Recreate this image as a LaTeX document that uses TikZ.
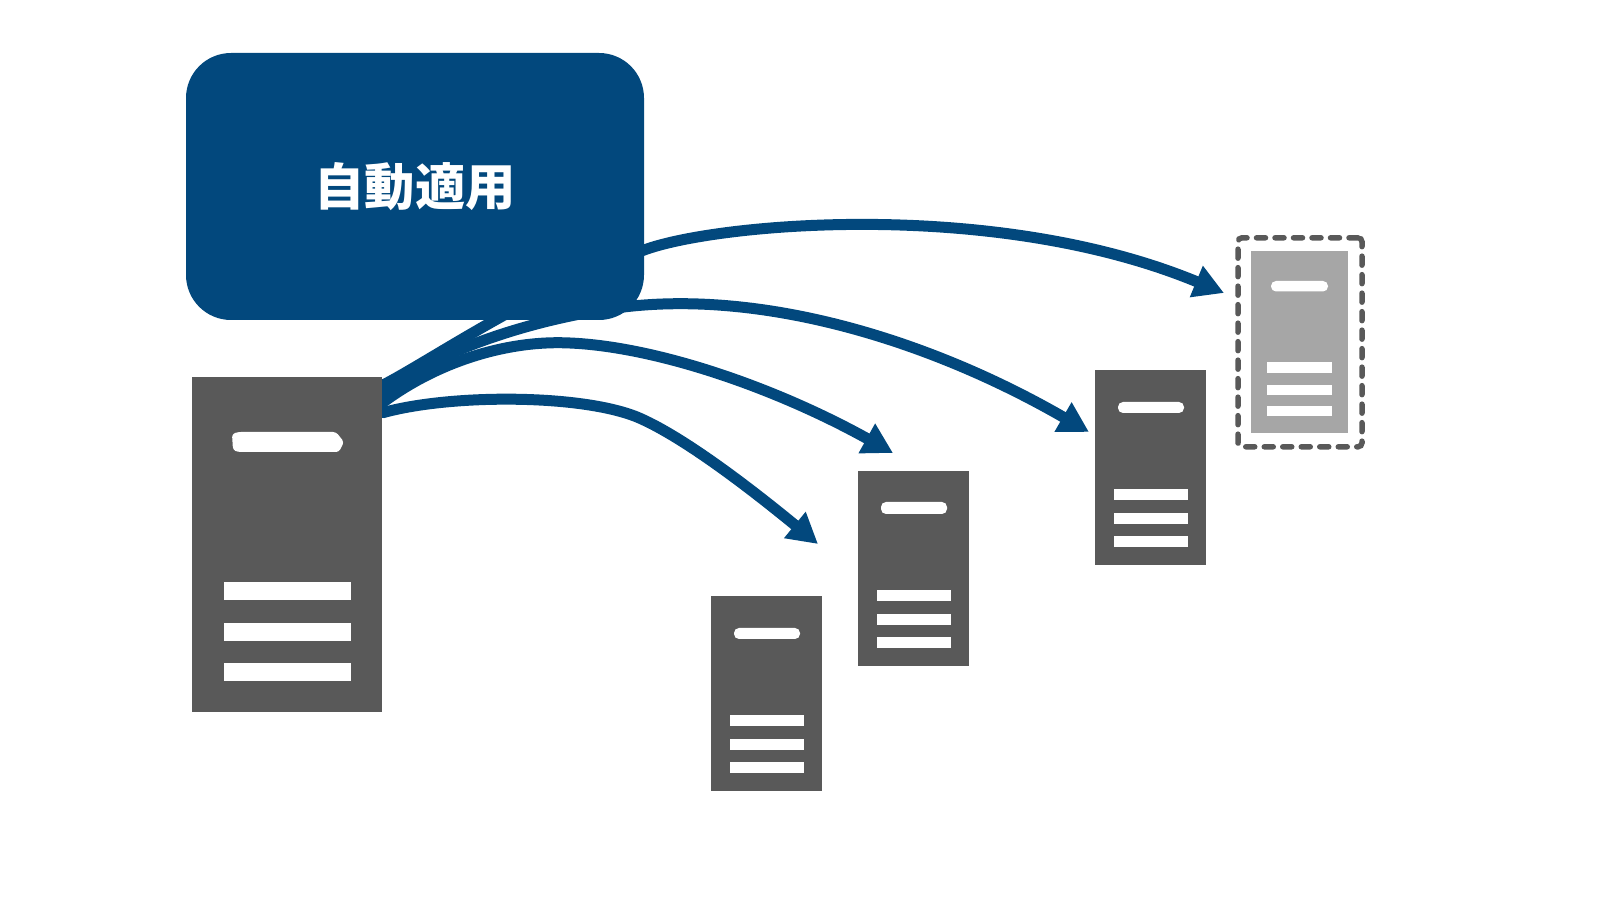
\documentclass[tikz,border=0pt]{standalone}
\usepackage{fontspec}
\usepackage{tikz}
\usetikzlibrary{arrows.meta}
\newfontfamily\cjk{Noto Sans CJK JP}
\definecolor{applyblue}{HTML}{02487D}
\definecolor{servergray}{HTML}{595959}
\definecolor{ghostgray}{HTML}{A6A6A6}

\begin{document}
\begin{tikzpicture}[x=0.1mm,y=-0.1mm,
	server/.style={fill=servergray,inner sep=0pt,minimum width=11.1mm,minimum height=19.5mm},
	pushline/.style={draw=applyblue,line width=1.1mm,line cap=round,-{Triangle[length=3mm,width=3.2mm,fill=applyblue]}},
	slot/.style={fill=white,rounded corners=0.5mm}]
	\useasboundingbox (0,0) rectangle (1611,906);
	\coordinate (tipone) at (818,544);
	\coordinate (tiptwo) at (893,453);
	\coordinate (tipthree) at (1089,432);
	\coordinate (tipfour) at (1224,293);
	\coordinate (bendone) at (637,417);
	\coordinate (bendtwo) at (570,343);
	\coordinate (bendthree) at (616,308);
	\coordinate (bendfour) at (650,248);
	\node (mainserver) at (287,544.5) [server,minimum width=19mm,minimum height=33.5mm] {};
	% arrows first, the box and servers go over their start
	\draw[pushline] (mainserver.54) .. controls (450,394) and (580,394) .. (bendone) .. controls (680,435) and (745,484) .. (tipone);
	\draw[pushline] (mainserver.56) .. controls (440,360) and (510,340) .. (bendtwo) .. controls (660,347) and (780,390) .. (tiptwo);
	\draw[pushline] (mainserver.58) .. controls (440,350) and (530,320) .. (bendthree) .. controls (760,288) and (930,340) .. (tipthree);
	\draw[pushline] (mainserver.59) .. controls (430,361) and (540,285) .. (bendfour) .. controls (730,222) and (1000,200) .. (tipfour);
	\node (applybox) at (415,186.5) [fill=applyblue,text=white,rounded corners=4.5mm,inner sep=0pt,minimum width=45.8mm,minimum height=26.7mm] {\cjk\bfseries\fontsize{14.3pt}{16pt}\selectfont 自動適用};
	\node (mainserver) at (287,544.5) [server,minimum width=19mm,minimum height=33.5mm] {};
	\fill[slot,rounded corners=0.3mm] (232,434) -- (238,432) -- (336,432) -- (344,442) -- (339,452) -- (238,452) -- (233,450) -- cycle;
	\foreach \bary in {582,623,663}
		\fill[white] (224,\bary) rectangle (351,\bary+18.5);
	% first small server
	\node (serverone) at (766.5,693.5) [server] {};
	\fill[slot] (734,628) rectangle (800,639);
	\foreach \bary in {715,739,762}
		\fill[white] (730,\bary) rectangle (804,\bary+11.5);
	% second small server
	\node (servertwo) at (913.5,568.5) [server] {};
	\fill[slot] (881,502) rectangle (947,514);
	\foreach \bary in {590,614,637}
		\fill[white] (877,\bary) rectangle (951,\bary+11.5);
	% third small server
	\node (serverthree) at (1150.5,467.5) [server] {};
	\fill[slot] (1118,402) rectangle (1184,413);
	\foreach \bary in {489,513,536}
		\fill[white] (1114,\bary) rectangle (1188,\bary+11.5);
	% not yet there: pale server in a dashed frame
	\node (ghostframe) at (1300,342.3) [draw=servergray,line width=0.55mm,line cap=round,dash pattern=on 0.9mm off 0.95mm,rounded corners=0.4mm,inner sep=0pt,minimum width=12.4mm,minimum height=20.9mm] {};
	\node (ghostserver) at (1299.5,342) [server,fill=ghostgray,minimum width=9.7mm,minimum height=18.2mm] {};
	\fill[slot] (1271,281) rectangle (1328,291.5);
	\foreach \bary in {362.5,385,406}
		\fill[white] (1267,\bary) rectangle (1332,\bary+10.5);
\end{tikzpicture}
\end{document}
